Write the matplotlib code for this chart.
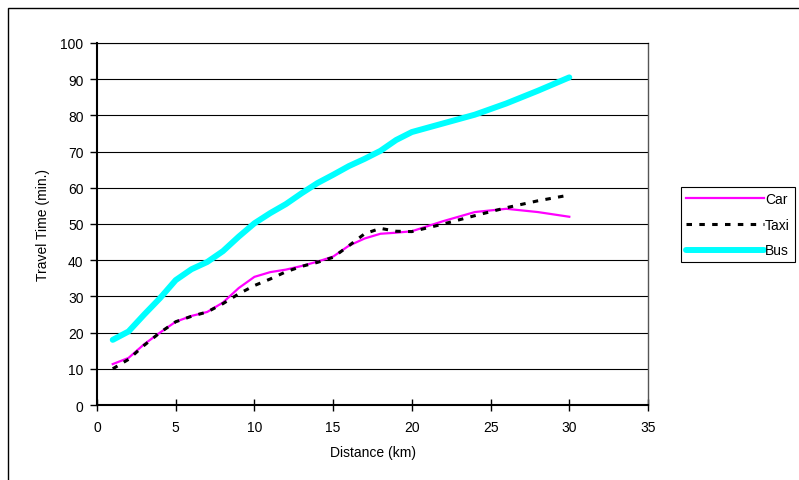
import matplotlib.pyplot as plt
from matplotlib.patches import Rectangle

plt.rcParams['font.family'] = ['Liberation Sans', 'DejaVu Sans']

# travel time (min.) against distance (km)
distance = [1, 2, 3, 4, 5, 6, 7, 8, 9, 10, 11, 12, 13, 14, 15, 16, 17, 18, 19, 20, 22, 24, 26, 28, 30]
car = [11.3, 13.0, 16.8, 20.0, 23.0, 24.6, 25.7, 28.3, 32.3, 35.4, 36.7, 37.4, 38.4, 39.6, 41.0,
       44.0, 46.0, 47.3, 47.6, 48.0, 50.8, 53.3, 54.2, 53.3, 52.0]
taxi = [10.0, 12.6, 16.5, 20.0, 23.0, 24.5, 25.7, 28.0, 30.7, 33.0, 34.8, 36.8, 38.3, 39.4, 40.8,
        44.0, 47.3, 48.8, 48.0, 47.9, 50.0, 52.3, 54.5, 56.4, 58.0]
bus = [18.0, 20.3, 25.0, 29.5, 34.5, 37.5, 39.5, 42.5, 46.5, 50.2, 53.0, 55.5, 58.5, 61.3, 63.6,
       66.0, 68.0, 70.2, 73.2, 75.4, 77.8, 80.2, 83.3, 86.8, 90.5]

xticks = [0, 5, 10, 15, 20, 25, 30, 35]
yticks = list(range(0, 101, 10))

fs = 10

fig = plt.figure(figsize=(7.99, 4.81), dpi=100)
ax = fig.add_axes([97 / 799, 1 - 406 / 481, (648 - 97) / 799, (406 - 44) / 481])

# outer chart border (runs off the right and bottom edge)
fig.patches.append(Rectangle((8 / 799, -0.1), 1.2, 1 - 9 / 481 + 0.1, transform=fig.transFigure,
                             fill=False, edgecolor='black', linewidth=1))

for y in yticks[1:]:
    ax.axhline(y, color='black', linewidth=0.8, zorder=1)

ax.plot(distance, car, color='#ff00ff', linewidth=1.6, label='Car', zorder=3)
ax.plot(distance, taxi, color='black', linewidth=2.2, dashes=(1.8, 2.4), label='Taxi', zorder=4)
ax.plot(distance, bus, color='#00ffff', linewidth=4.3, solid_capstyle='round', label='Bus', zorder=2)

ax.set_xlim(0, 35)
ax.set_ylim(0, 100)
ax.set_xticks(xticks)
ax.set_yticks(yticks)
ax.tick_params(axis='x', direction='inout', length=8, width=1, labelsize=fs, pad=7)
ax.tick_params(axis='y', direction='out', length=5, width=1, labelsize=fs, pad=4.7)

ax.spines['left'].set_linewidth(1.5)
ax.spines['bottom'].set_linewidth(1.5)
ax.spines['right'].set_color('#555555')
ax.spines['top'].set_color('black')
ax.spines['right'].set_linewidth(1)
ax.spines['top'].set_linewidth(0.8)

ax.set_xlabel('Distance (km)', fontsize=fs, labelpad=8)
ax.set_ylabel('Travel Time (min.)', fontsize=fs, labelpad=7.5)

leg = ax.legend(loc='upper left', bbox_to_anchor=(681 / 799, 1 - 188 / 481),
                bbox_transform=fig.transFigure, fontsize=fs, frameon=True, fancybox=False,
                handlelength=5.6, handletextpad=0.1, labelspacing=0.85, borderpad=0.35,
                borderaxespad=0, framealpha=1)
leg.get_frame().set_edgecolor('black')
leg.get_frame().set_linewidth(0.8)

fig.savefig('out.png', dpi=100)
